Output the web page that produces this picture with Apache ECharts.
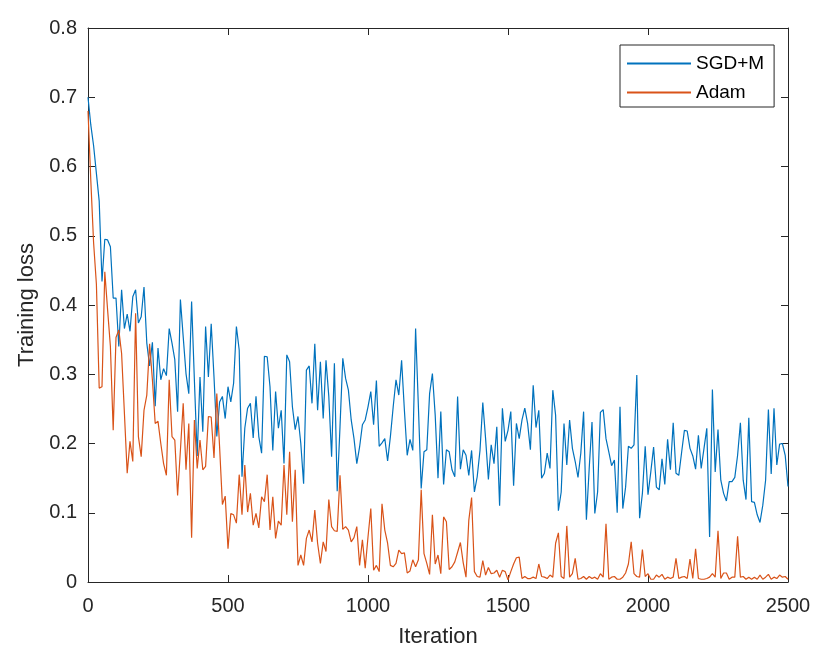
<!DOCTYPE html>
<html>
<head>
<meta charset="utf-8">
<script src="https://cdn.jsdelivr.net/npm/echarts@6/dist/echarts.min.js"></script>
<style>
html,body{margin:0;padding:0;background:#fff;}
#chart{width:831px;height:650px;}
</style>
</head>
<body>
<div id="chart"></div>
<script>
// Iteration step between recorded points
const iterationStep = 10;

const sgdmLoss = [
  0.70, 0.66, 0.63, 0.59, 0.55, 0.434, 0.495, 0.494, 0.484, 0.41,
  0.41, 0.34, 0.422, 0.366, 0.387, 0.362, 0.412, 0.422, 0.374, 0.383,
  0.426, 0.345, 0.312, 0.346, 0.254, 0.338, 0.292, 0.308, 0.298, 0.366,
  0.345, 0.321, 0.246, 0.408, 0.354, 0.301, 0.272, 0.405, 0.291, 0.182,
  0.296, 0.217,
  0.369, 0.296, 0.373, 0.296, 0.21, 0.26, 0.268, 0.236, 0.282, 0.26,
  0.287, 0.369, 0.335, 0.152, 0.222, 0.251, 0.258, 0.208, 0.268, 0.21,
  0.186, 0.326, 0.325, 0.282, 0.19, 0.275, 0.222, 0.248, 0.171, 0.328,
  0.318, 0.253, 0.22, 0.239, 0.2, 0.142, 0.306, 0.312, 0.258, 0.344,
  0.248,
  0.318, 0.236, 0.32, 0.268, 0.181, 0.316, 0.131, 0.224, 0.323, 0.294,
  0.277, 0.234, 0.207, 0.171, 0.195, 0.227, 0.234, 0.253, 0.275, 0.227,
  0.291, 0.196, 0.201, 0.207, 0.175, 0.21, 0.253, 0.292, 0.27, 0.32,
  0.248, 0.183, 0.206, 0.19, 0.366, 0.253, 0.135, 0.188, 0.191, 0.272,
  0.301,
  0.241, 0.15, 0.246, 0.141, 0.191, 0.188, 0.162, 0.152, 0.268, 0.163,
  0.191, 0.183, 0.154, 0.19, 0.13, 0.152, 0.19, 0.259, 0.207, 0.148,
  0.198, 0.171, 0.224, 0.11, 0.251, 0.203, 0.219, 0.246, 0.139, 0.229,
  0.207, 0.234, 0.251, 0.229, 0.191, 0.284, 0.223, 0.248, 0.15, 0.157,
  0.186,
  0.164, 0.277, 0.241, 0.103, 0.13, 0.229, 0.169, 0.234, 0.193, 0.174,
  0.151, 0.186, 0.246, 0.09, 0.164, 0.231, 0.099, 0.13, 0.245, 0.249,
  0.207, 0.188, 0.168, 0.176, 0.1, 0.253, 0.106, 0.137, 0.196, 0.193,
  0.198, 0.299, 0.092, 0.128, 0.196, 0.126, 0.159, 0.195, 0.137, 0.133,
  0.178,
  0.141, 0.206, 0.162, 0.23, 0.157, 0.154, 0.187, 0.219, 0.218, 0.193,
  0.182, 0.163, 0.212, 0.164, 0.193, 0.222, 0.065, 0.278, 0.159, 0.22,
  0.147, 0.128, 0.117, 0.145, 0.145, 0.151, 0.183, 0.23, 0.147, 0.119,
  0.237, 0.116, 0.115, 0.097, 0.086, 0.111, 0.147, 0.249, 0.156, 0.251,
  0.169, 0.199, 0.2, 0.183, 0.138
];

const adamLoss = [
  0.68, 0.58, 0.49, 0.43, 0.28, 0.282, 0.448, 0.393, 0.34, 0.219,
  0.353, 0.364, 0.33, 0.244, 0.157, 0.203, 0.174, 0.388, 0.21, 0.181,
  0.248, 0.27, 0.344, 0.292, 0.229, 0.232, 0.2, 0.171, 0.154, 0.292,
  0.21, 0.205, 0.125, 0.19, 0.258, 0.162, 0.229, 0.064, 0.234, 0.164,
  0.205, 0.162,
  0.167, 0.239, 0.238, 0.179, 0.272, 0.195, 0.112, 0.124, 0.048, 0.099,
  0.097, 0.085, 0.155, 0.097, 0.169, 0.101, 0.128, 0.082, 0.099, 0.078,
  0.123, 0.116, 0.155, 0.075, 0.123, 0.063, 0.088, 0.082, 0.169, 0.097,
  0.188, 0.087, 0.162, 0.024, 0.039, 0.024, 0.063, 0.075, 0.058, 0.104,
  0.056,
  0.027, 0.058, 0.044, 0.119, 0.08, 0.074, 0.073, 0.154, 0.076, 0.08,
  0.075, 0.058, 0.064, 0.08, 0.024, 0.061, 0.02, 0.065, 0.106, 0.017,
  0.024, 0.015, 0.113, 0.075, 0.056, 0.024, 0.022, 0.027, 0.046, 0.041,
  0.042, 0.013, 0.016, 0.032, 0.022, 0.032, 0.133, 0.041, 0.027, 0.011,
  0.097,
  0.026, 0.039, 0.012, 0.094, 0.087, 0.018, 0.022, 0.029, 0.043, 0.057,
  0.028, 0.007, 0.089, 0.122, 0.015, 0.008, 0.007, 0.031, 0.01, 0.021,
  0.012, 0.013, 0.017, 0.007, 0.017, 0.015, 0.003, 0.015, 0.026, 0.035,
  0.036, 0.005, 0.008, 0.005, 0.005, 0.007, 0.005, 0.026, 0.008, 0.007,
  0.005,
  0.01, 0.007, 0.056, 0.071, 0.008, 0.005, 0.081, 0.007, 0.012, 0.034,
  0.004, 0.005, 0.008, 0.004, 0.008, 0.005, 0.007, 0.004, 0.012, 0.007,
  0.084, 0.004, 0.007, 0.008, 0.004, 0.004, 0.007, 0.013, 0.026, 0.058,
  0.012, 0.008, 0.007, 0.047, 0.008, 0.012, 0.004, 0.004, 0.01, 0.007,
  0.011,
  0.004, 0.007, 0.005, 0.007, 0.034, 0.005, 0.007, 0.008, 0.005, 0.033,
  0.005, 0.048, 0.005, 0.004, 0.004, 0.005, 0.007, 0.012, 0.007, 0.074,
  0.005, 0.013, 0.013, 0.004, 0.007, 0.007, 0.066, 0.007, 0.008, 0.004,
  0.007, 0.004, 0.007, 0.004, 0.01, 0.004, 0.007, 0.011, 0.004, 0.007,
  0.005, 0.01, 0.007, 0.008, 0.004
];

const xTicks = [0, 500, 1000, 1500, 2000, 2500];
const yTicks = [0, 0.1, 0.2, 0.3, 0.4, 0.5, 0.6, 0.7, 0.8];
const seriesNames = ['SGD+M', 'Adam'];

const toPairs = arr => arr.map((v, i) => [i * iterationStep, v]);

const FONT = '"Liberation Sans", Arial, Helvetica, sans-serif';
const AX = '#262626';

const chart = echarts.init(document.getElementById('chart'), null, {renderer: 'canvas'});

const baseX = {
  type: 'value',
  min: xTicks[0], max: xTicks[xTicks.length - 1], interval: xTicks[1] - xTicks[0],
  axisLine: {show: true, onZero: false, lineStyle: {color: AX, width: 1}},
  axisTick: {show: true, inside: true, length: 7, lineStyle: {color: AX}},
  splitLine: {show: false}
};
const baseY = {
  type: 'value',
  min: yTicks[0], max: yTicks[yTicks.length - 1], interval: +(yTicks[1] - yTicks[0]).toFixed(2),
  axisLine: {show: true, onZero: false, lineStyle: {color: AX, width: 1}},
  axisTick: {show: true, inside: true, length: 7, lineStyle: {color: AX}},
  splitLine: {show: false}
};

chart.setOption({
  animation: false,
  backgroundColor: '#fff',
  grid: {left: 88, right: 43, top: 28, bottom: 68, containLabel: false, outerBoundsMode: 'none'},
  legend: {
    data: seriesNames,
    orient: 'vertical',
    left: 620, top: 45,
    padding: [9, 10, 5, 7],
    itemGap: 10,
    itemWidth: 64, itemHeight: 2,
    icon: 'rect',
    backgroundColor: '#fff',
    borderColor: AX, borderWidth: 1,
    textStyle: {fontFamily: FONT, fontSize: 19, color: '#000', padding: [0, 0, 0, 0]}
  },
  xAxis: [
    Object.assign({}, baseX, {
      position: 'bottom',
      name: 'Iteration', nameLocation: 'middle', nameGap: 44,
      nameTextStyle: {fontFamily: FONT, fontSize: 22, color: AX},
      axisLabel: {show: true, fontFamily: FONT, fontSize: 20, color: AX, margin: 14,
        formatter: v => String(v)}
    }),
    Object.assign({}, baseX, {position: 'top', axisLabel: {show: false}})
  ],
  yAxis: [
    Object.assign({}, baseY, {
      position: 'left',
      name: 'Training loss', nameLocation: 'middle', nameGap: 47,
      nameTextStyle: {fontFamily: FONT, fontSize: 22, color: AX},
      axisLabel: {show: true, fontFamily: FONT, fontSize: 20, color: AX, margin: 11,
        formatter: v => String(+v.toFixed(1))}
    }),
    Object.assign({}, baseY, {position: 'right', axisLabel: {show: false}})
  ],
  series: [
    {
      name: seriesNames[0], type: 'line', xAxisIndex: 0, yAxisIndex: 0,
      data: toPairs(sgdmLoss), showSymbol: false, symbol: 'none',
      lineStyle: {color: '#0072BD', width: 1.2}, itemStyle: {color: '#0072BD'}
    },
    {
      name: seriesNames[1], type: 'line', xAxisIndex: 0, yAxisIndex: 0,
      data: toPairs(adamLoss), showSymbol: false, symbol: 'none',
      lineStyle: {color: '#D95319', width: 1.2}, itemStyle: {color: '#D95319'}
    }
  ]
});
</script>
</body>
</html>
